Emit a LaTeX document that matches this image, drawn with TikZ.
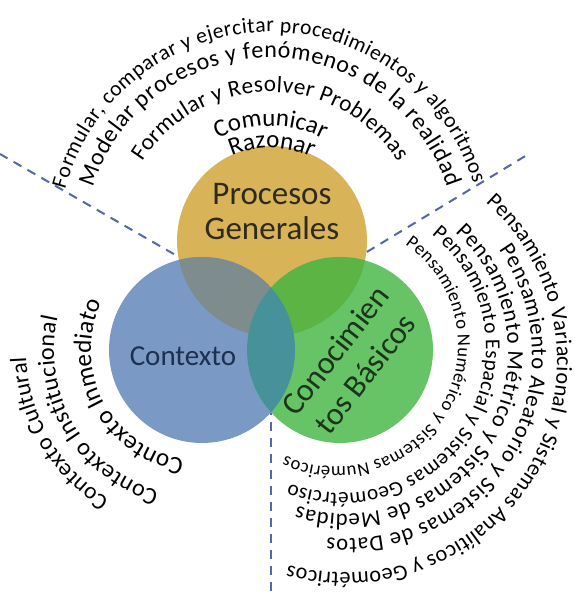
\documentclass[tikz,border=0pt]{standalone}
\usepackage{fontspec}
\setmainfont{Carlito}
\usetikzlibrary{decorations.text}
\definecolor{procyellow}{HTML}{D8B357}
\definecolor{ctxblue}{HTML}{7A99C5}
\definecolor{congreen}{HTML}{66C466}
\definecolor{procctx}{HTML}{7E8C8E}
\definecolor{proccon}{HTML}{5CB444}
\definecolor{ctxcon}{HTML}{47919A}
\definecolor{sectorblue}{HTML}{5468A8}
\definecolor{proctext}{HTML}{2E2A1E}
\definecolor{ctxtext}{HTML}{1E2F4F}
\definecolor{context}{HTML}{1C331C}

\newcommand\arcfs[1]{\fontsize{#1}{#1}\selectfont}

\begin{document}
\begin{tikzpicture}[
    x=0.5pt, y=0.5pt,
    sector/.style={
        draw=sectorblue,
        line width=1pt,
        dash pattern=on 4.5pt off 3.5pt
    },
    arctext/.style={
        decorate,
        decoration={text along path, text align=fit to path, text={#1}}
    },
    setlabel/.style={
        align=center,
        text=#1,
        inner sep=0pt
    }
]
\useasboundingbox (0,0) rectangle (574,592);

% centres of the sets and of the sector dividers
\coordinate (cproc) at (272,351);
\coordinate (cctx) at (202,242);
\coordinate (ccon) at (340,242);
\coordinate (hub) at (271,282);
\coordinate (endNW) at (0,438);
\coordinate (endNE) at (527,437);
\coordinate (endS) at (271,0);

% sector dividers
\draw[sector] (hub) -- (endNW);
\draw[sector] (hub) -- (endNE);
\draw[sector] (hub) -- (endS);

% the three sets
\fill[procyellow] (cproc) circle[radius=95];
\fill[ctxblue] (cctx) circle[radius=93];
\fill[congreen] (ccon) circle[radius=93];
\begin{scope}
    \clip (cproc) circle[radius=95];
    \fill[procctx] (cctx) circle[radius=93];
    \fill[proccon] (ccon) circle[radius=93];
\end{scope}
\begin{scope}
    \clip (cctx) circle[radius=93];
    \fill[ctxcon] (ccon) circle[radius=93];
\end{scope}

% set names
\node[setlabel=proctext, font=\fontsize{16.5}{17.5}\selectfont] (procesos) at (272,380) {Procesos\\Generales};
\node[setlabel=ctxtext, font=\fontsize{14.5}{16}\selectfont] (contexto) at (183,236) {Contexto};
\node[setlabel=context, font=\fontsize{16}{19}\selectfont, rotate=52] (conocimientos) at (350,230) {Conocimien\\tos Básicos};

% general processes, around the yellow set
\coordinate (tc) at (270,348);
\path[arctext={|\arcfs{12.5}|Razonar}] (tc) ++(113.5:96) arc[start angle=113.5, end angle=66.5, radius=96];
\path[arctext={|\arcfs{12.5}|Comunicar}] (tc) ++(116.3:118) arc[start angle=116.3, end angle=63.7, radius=118];
\path[arctext={|\arcfs{11.6}|Formular y Resolver Problemas}] (tc) ++(147.3:152) arc[start angle=147.3, end angle=32.7, radius=152];
\path[arctext={|\arcfs{12}|Modelar procesos y fenómenos de la realidad}] (tc) ++(162.2:186) arc[start angle=162.2, end angle=17.8, radius=186];
\path[arctext={|\arcfs{10.8}|Formular, comparar y ejercitar procedimientos y algoritmos}] (tc) ++(165:212) arc[start angle=165, end angle=16.5, radius=212];

% basic knowledge, around the green set
\coordinate (rc0) at (345,231);
\coordinate (rc1) at (348,237);
\coordinate (rc2) at (346,240);
\coordinate (rc3) at (341,244);
\coordinate (rc4) at (336,247);
\path[arctext={|\arcfs{11.1}|Pensamiento Variacional y Sistemas Analíticos y Geométricos}] (rc0) ++(48.5:212) arc[start angle=48.5, end angle=-105.5, radius=212];
\path[arctext={|\arcfs{11.3}|Pensamiento Aleatorio y Sistemas de Datos}] (rc1) ++(35:184) arc[start angle=35, end angle=-96.5, radius=184];
\path[arctext={|\arcfs{11.4}|Pensamiento Métrico y Sistemas de Medidas}] (rc2) ++(47.7:162) arc[start angle=47.7, end angle=-107.5, radius=162];
\path[arctext={|\arcfs{10.6}|Pensamiento Espacial y Sistemas Geométrciso}] (rc3) ++(51.3:145) arc[start angle=51.3, end angle=-110.8, radius=145];
\path[arctext={|\arcfs{9.3}|Pensamiento Numérico y Sistemas Numéricos}] (rc4) ++(55.5:122) arc[start angle=55.5, end angle=-114.5, radius=122];

% context, around the blue set
\path[arctext={|\arcfs{12.6}|Contexto Inmediato}] (cctx) ++(260.7:111) arc[start angle=260.7, end angle=154.3, radius=111];
\path[arctext={|\arcfs{12.1}|Contexto Institucional}] (cctx) ++(253.1:148) arc[start angle=253.1, end angle=167.1, radius=148];
\path[arctext={|\arcfs{11.7}|Contexto Cultural}] (cctx) ++(238.2:176) arc[start angle=238.2, end angle=182.3, radius=176];

\end{tikzpicture}
\end{document}
